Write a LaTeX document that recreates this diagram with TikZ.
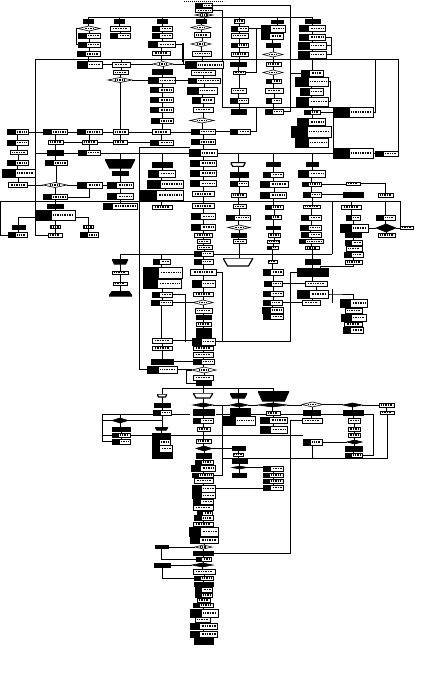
\documentclass[tikz,border=0pt]{standalone}
\usetikzlibrary{shapes.geometric,calc}
\pgfdeclarelayer{background}
\pgfsetlayers{background,main}
\tikzset{
  base/.style={inner sep=0pt,outer sep=0pt,line width=0.6pt},
  txt/.style={draw=black,line width=1.5pt,dash pattern=on 1pt off 0.7pt},
  bx/.style={base,draw,fill=white,rectangle,path picture={\draw[txt] ($(path picture bounding box.west)!0.14!(path picture bounding box.east)$) -- ($(path picture bounding box.west)!0.86!(path picture bounding box.east)$);}},
  bb/.style={base,draw,fill=white,rectangle,path picture={\fill[black] let \p1=(path picture bounding box.south west), \p2=(path picture bounding box.north east) in (\p1) rectangle ({min(\x1+1.7*(\y2-\y1),\x1+0.42*(\x2-\x1))},\y2);\draw[txt] let \p1=(path picture bounding box.south west), \p2=(path picture bounding box.north east) in ({min(\x1+1.7*(\y2-\y1),\x1+0.42*(\x2-\x1))+1.5pt},{0.5*(\y1+\y2)}) -- ({\x2-1.5pt},{0.5*(\y1+\y2)});}},
  bk/.style={base,draw,fill=black,rectangle},
  dm/.style={base,draw,fill=white,diamond,path picture={\draw[txt,line width=1.2pt] ($(path picture bounding box.west)!0.3!(path picture bounding box.east)$) -- ($(path picture bounding box.west)!0.7!(path picture bounding box.east)$);}},
  bd/.style={base,draw,fill=black,diamond},
  tw/.style={base,fill=white,rectangle,path picture={\draw[line width=1.2pt,draw=black,fill=white] (path picture bounding box.north west) -- (path picture bounding box.north east) -- ($(path picture bounding box.south east)!0.15!(path picture bounding box.south west)$) -- ($(path picture bounding box.south west)!0.15!(path picture bounding box.south east)$) -- cycle;}},
  tb/.style={base,fill=white,rectangle,path picture={\draw[line width=1.2pt,draw=black,fill=black] (path picture bounding box.north west) -- (path picture bounding box.north east) -- ($(path picture bounding box.south east)!0.15!(path picture bounding box.south west)$) -- ($(path picture bounding box.south west)!0.15!(path picture bounding box.south east)$) -- cycle;}},
  tn/.style={base,fill=white,rectangle,path picture={\draw[line width=1.2pt,draw=black,fill=black] (path picture bounding box.south west) -- (path picture bounding box.south east) -- ($(path picture bounding box.north east)!0.15!(path picture bounding box.north west)$) -- ($(path picture bounding box.north west)!0.15!(path picture bounding box.north east)$) -- cycle;}},
  tx/.style={base,fill=white,rectangle,path picture={\draw[draw=black,line width=1pt,dash pattern=on 0.8pt off 1.2pt] (path picture bounding box.west) -- (path picture bounding box.east);}},
  ln/.style={line width=0.75pt},
}
\newcommand\nd[6]{\node[#6,minimum width=#4pt,minimum height=#5pt] (#1) at (#2,#3) {};}
\newcommand\vch[1]{\foreach \cur [count=\ci, remember=\cur as \prv] in {#1}{\ifnum\ci>1\relax\draw[ln] (\prv.south) -- (\prv.south |- \cur.north);\fi}}
\newcommand\hch[1]{\foreach \cur [count=\ci, remember=\cur as \prv] in {#1}{\ifnum\ci>1\relax\draw[ln] (\prv.east) -- (\prv.east -| \cur.west);\fi}}
\newcommand\vr[3]{\pgfmathtruncatemacro\vrend{#3-1}\foreach \i [evaluate=\i as \j using int(\i+1)] in {#2,...,\vrend}{\draw[ln] (#1\i.south) -- (#1\i.south |- #1\j.north);}}
\begin{document}
\begin{tikzpicture}[x=1pt,y=-1pt]
\useasboundingbox (0,0) rectangle (426,674);
\coordinate (Y17) at (0,17.5);
\coordinate (Y59) at (0,59);
\coordinate (Y153) at (0,153);
\coordinate (Y201) at (0,201);
\coordinate (Y217) at (0,217);
\coordinate (Y254) at (0,254);
\coordinate (Y388) at (0,388);
\coordinate (Y458) at (0,458);
% top
\nd{tp0}{204}{1.5}{40}{3}{tx}
\nd{tp1}{204}{5.5}{17}{4.5}{bb}
\nd{tp2}{204}{10.5}{17}{4.5}{bx}
\nd{tp3}{204}{15}{18}{4}{dm}
% column a
\nd{a1}{88}{21}{10}{4}{bk}
\nd{a2}{89}{28.5}{22}{5}{dm}
\nd{a3}{89}{35.5}{22}{5}{bb}
\nd{a4}{89}{44.5}{22}{5}{bb}
\nd{a5}{88.5}{54}{23}{5}{bb}
\nd{a6}{89.5}{64.5}{25}{7}{bb}
% column b
\nd{b1}{119}{21}{10}{4}{bk}
\nd{b2}{120}{28.5}{20}{5}{bx}
\nd{b3}{120}{35.5}{20}{5}{bb}
\nd{b4}{121}{64.5}{18}{5}{bx}
\nd{b5}{120.5}{72.5}{15}{4}{bx}
\nd{b6}{120}{80}{24}{5}{dm}
% column c
\nd{c1}{162}{21}{10}{4}{bk}
\nd{c2}{162}{28.5}{20}{5}{bb}
\nd{c3}{162}{35.5}{20}{5}{bb}
\nd{c4}{161.5}{44.5}{27}{6}{bb}
\nd{c5}{161}{53}{18}{4}{bx}
\nd{c6}{163}{64}{20}{5}{dm}
\nd{c7}{162}{72}{20}{5}{bk}
\nd{c8}{162}{80.5}{27}{6}{bb}
\nd{c9}{162}{90}{23}{5}{bb}
\nd{c10}{162}{100}{23}{5}{bb}
\nd{c11}{162}{110}{23}{5}{bb}
\nd{c12}{162}{121}{22}{5}{bb}
\nd{c13}{161}{132}{18}{5}{bx}
\nd{c14}{162}{142.5}{23}{5}{bb}
% spine
\nd{s1}{201}{21}{10}{4}{bk}
\nd{s2}{201}{27.5}{20}{5}{dm}
\nd{s3}{202}{35}{16}{5}{bx}
\nd{s4}{201}{44}{20}{5}{dm}
\nd{s5}{202}{53.5}{19}{5}{bx}
\nd{s6}{204}{65}{38}{7}{bb}
\nd{s7}{203}{72.5}{24}{5}{bx}
\nd{s8}{204}{80.5}{32}{5}{bb}
\nd{s9}{202}{90.5}{30}{7}{bb}
\nd{s10}{203}{100}{22}{6}{bb}
\nd{s11}{203}{109.5}{20}{5}{bx}
\nd{s12}{202}{120.5}{24}{5}{dm}
\nd{s13}{203}{131.5}{24}{5}{bb}
\nd{s14}{203}{142}{24}{5}{bb}
\nd{s15}{203}{153}{28}{7}{bb}
\nd{s16}{203}{163}{26}{6}{bb}
\nd{s17}{203}{173}{26}{6}{bb}
\nd{s18}{203}{183.5}{26}{6}{bb}
\nd{s19}{203}{194}{22}{5}{bx}
\nd{s20}{203}{206}{22}{5}{bx}
\nd{s21}{203}{216.5}{24}{6}{bb}
\nd{s22}{203}{227}{24}{6}{bb}
\nd{s23}{203.5}{235}{18}{4}{bx}
\nd{s24}{203.5}{241.5}{13}{4}{bx}
\nd{s25}{204.5}{247.5}{15}{4}{bx}
\nd{s26}{203.5}{253.5}{19}{5}{bb}
\nd{s27}{203.5}{261.5}{19}{5}{bb}
\nd{s28}{203}{272}{26}{6}{bx}
\nd{s29}{203.5}{283.5}{23}{7}{bb}
\nd{s30}{203}{294}{20}{4}{bx}
\nd{s31}{203}{302.5}{20}{5}{dm}
\nd{s32}{203.5}{310.5}{17}{5}{bx}
\nd{s33}{203.5}{317}{15}{4}{bk}
\nd{s34}{203.5}{324}{15}{4}{bx}
\nd{s35}{203.5}{330}{15}{4}{bk}
\nd{s36}{203.5}{335}{15}{4}{bk}
\nd{s37}{203.5}{341.5}{23}{7}{bb}
\nd{s38}{203}{348}{20}{4}{bx}
\nd{s39}{203}{354.5}{20}{5}{bx}
\nd{s40}{203.5}{361.5}{21}{5}{bb}
\nd{s41}{204}{370}{24}{6}{dm}
\nd{s42}{203}{377.5}{20}{5}{bx}
\nd{s43}{203.5}{383}{15}{4}{bk}
\nd{s45}{203}{395.5}{20}{5}{tw}
\nd{s46}{203}{405}{20}{4}{bd}
\nd{s47}{203.5}{412}{21}{6}{bk}
\nd{s48}{203}{420.5}{20}{5}{bb}
\nd{s49}{203.5}{429}{13}{4}{bx}
\nd{s50}{203.5}{441}{15}{4}{bx}
\nd{s51}{204}{448.5}{16}{5}{bd}
\nd{s52}{203.5}{455.5}{15}{5}{bk}
\nd{s53}{204}{462}{18}{4}{bb}
\nd{s54}{203}{468}{24}{6}{bb}
\nd{s55}{202.5}{475}{21}{4}{bb}
\nd{s56}{203.5}{480.5}{19}{5}{bx}
\nd{s57}{203.5}{488.5}{23}{7}{bb}
\nd{s58}{203.5}{495.5}{23}{6}{bb}
\nd{s59}{203}{501.5}{20}{5}{bb}
\nd{s60}{203}{507.5}{20}{5}{bx}
\nd{s61}{204.5}{513}{15}{4}{bb}
\nd{s62}{203.5}{518}{19}{5}{bb}
\nd{s63}{203}{524}{20}{4}{bx}
\nd{s64}{203.5}{531.5}{29}{9}{bb}
\nd{s65}{204}{540}{28}{6}{bb}
\nd{s66}{203.5}{547}{17}{4}{dm}
\nd{s67}{203}{553}{20}{4}{bk}
\nd{s68}{203.5}{559}{15}{4}{bb}
\nd{s69}{202.5}{565}{21}{4}{bd}
\nd{s70}{204}{571.5}{22}{5}{bx}
\nd{s71}{203.5}{578}{19}{4}{bb}
\nd{s72}{203.5}{584}{19}{4}{bk}
\nd{s73}{203.5}{589.5}{17}{5}{bb}
\nd{s74}{203.5}{595}{17}{4}{bb}
\nd{s75}{203.5}{600}{13}{4}{bx}
\nd{s76}{203}{605}{20}{4}{bb}
\nd{s77}{204}{613}{28}{8}{bb}
\nd{s78}{202.5}{619.5}{15}{5}{bx}
\nd{s79}{203.5}{626}{27}{6}{bb}
\nd{s80}{203.5}{634}{27}{6}{bb}
\nd{s81}{203.5}{641}{19}{6}{bk}
% column e
\nd{e1}{239}{21}{10}{4}{bx}
\nd{e2}{239.5}{28.5}{17}{5}{bb}
\nd{e3}{239.5}{35.5}{17}{5}{bx}
\nd{e4}{239.5}{45}{17}{4}{bb}
\nd{e5}{239.5}{54}{17}{4}{bx}
\nd{e6}{238}{64}{16}{4}{bk}
\nd{e7}{239}{72.5}{12}{3}{bx}
\nd{e8}{238.5}{90.5}{15}{5}{bx}
\nd{e9}{239}{100.5}{18}{5}{bb}
\nd{e10}{238.5}{111.5}{15}{5}{bk}
% column f
\nd{f1}{277}{21.5}{12}{3}{bk}
\nd{f2}{273}{28.5}{24}{7}{bb}
\nd{f3}{272}{36}{22}{6}{bb}
\nd{f4}{273}{45}{14}{4}{bk}
\nd{f5}{273}{54.5}{20}{5}{dm}
\nd{f6}{273.5}{64}{15}{4}{bx}
\nd{f7}{273}{72.5}{20}{5}{dm}
\nd{f8}{273.5}{81}{15}{4}{bb}
\nd{f9}{274}{90.5}{18}{5}{bx}
\nd{f10}{273.5}{100.5}{15}{5}{bb}
\nd{f11}{274}{111.5}{18}{5}{bb}
% column g
\nd{g1}{312.5}{21.5}{15}{4}{bk}
\nd{g2}{312}{28.5}{26}{6}{bb}
\nd{g3}{312}{37}{26}{6}{bb}
\nd{g4}{312}{45.5}{28}{7}{bb}
\nd{g5}{312}{54.5}{28}{7}{bb}
\nd{g6}{312}{73}{22}{6}{bb}
\nd{g7}{311.5}{81.5}{33}{9}{bb}
\nd{g8}{311.5}{91.5}{23}{7}{bb}
\nd{g9}{312}{101.5}{32}{9}{bb}
\nd{g10}{312}{112}{16}{4}{bb}
\nd{g11}{311.5}{122}{28}{7}{bb}
\nd{g12}{311}{131.5}{40}{11}{bb}
\nd{g13}{311.5}{142.5}{33}{9}{bb}
\nd{h1}{353}{112}{40}{10}{bb}
\nd{h2}{353}{153}{40}{10}{bb}
\nd{h3}{386.5}{153.5}{23}{5}{bb}
\nd{i1}{240}{131.5}{20}{5}{bb}
% left rows
\nd{p1}{17.5}{132}{21}{5}{bb}
\nd{p2}{55}{132}{24}{5}{bb}
\nd{p3}{89.5}{132}{25}{5}{bb}
\nd{p4}{120.5}{132}{15}{5}{bx}
\nd{q1}{17.5}{142.5}{21}{5}{bb}
\nd{q2}{55.5}{142}{15}{4}{bx}
\nd{q3}{89.5}{142}{15}{4}{bx}
\nd{q4}{120}{142}{14}{4}{bx}
\nd{lr1}{18.5}{152.5}{17}{4}{bx}
\nd{lr2}{55}{152.5}{16}{5}{bk}
\nd{lr3}{89}{152.5}{22}{5}{bb}
\nd{lu1}{17.5}{163}{21}{5}{bb}
\nd{lu2}{56}{163}{22}{5}{bb}
\nd{T1}{120}{163.5}{30}{9}{tb}
\nd{lu3}{18.5}{173}{33}{8}{bb}
\nd{lu4}{120}{173}{16}{4}{bk}
\nd{lv1}{17.5}{185}{19}{5}{bx}
\nd{lv2}{55}{185}{24}{5}{dm}
\nd{lv3}{89.5}{185}{25}{6}{bb}
\nd{lv4}{120}{185}{26}{6}{bb}
\nd{lw1}{55}{197}{24}{5}{bb}
\nd{lw2}{120}{196.5}{26}{6}{bb}
\nd{lw3}{120}{206}{34}{6}{bb}
\nd{lw4}{55}{206}{16}{4}{bk}
\nd{lw5}{55}{215}{40}{10}{bb}
\nd{lx1}{18.5}{227}{13}{4}{bk}
\nd{lx2}{55}{227}{10}{3}{bx}
\nd{lx3}{88}{227}{10}{3}{bx}
\nd{ly1}{17.5}{235}{19}{5}{bb}
\nd{ly2}{55}{235}{14}{4}{bx}
\nd{ly3}{89}{235}{18}{5}{bb}
% group k
\nd{k1}{162}{164.5}{20}{5}{bk}
\nd{k2}{161.5}{173.5}{27}{7}{bb}
\nd{k3}{165}{184}{36}{8}{bb}
\nd{k4}{161.5}{195}{43}{10}{bb}
\nd{k5}{162}{207}{20}{4}{bx}
% m n o columns
\nd{m1}{238}{164.5}{15}{4}{tw}
\nd{m2}{239}{174.5}{18}{5}{bk}
\nd{m3}{239}{183.5}{18}{5}{bb}
\nd{m4}{238.5}{195}{15}{4}{bx}
\nd{m5}{239.5}{206.5}{13}{4}{bx}
\nd{m6}{238}{217.5}{24}{5}{bb}
\nd{m7}{239}{227.5}{22}{5}{dm}
\nd{m8}{238.5}{235}{15}{4}{bk}
\nd{m9}{239.5}{241.5}{13}{4}{bx}
\nd{n1}{273}{164.5}{14}{4}{bk}
\nd{n2}{273}{174.5}{20}{5}{bb}
\nd{n3}{274}{184}{28}{6}{bb}
\nd{n4}{273}{195}{26}{6}{bb}
\nd{n5}{274}{207}{18}{4}{bb}
\nd{n6}{273}{217}{16}{4}{bb}
\nd{n7}{273}{227.5}{14}{3}{bk}
\nd{n8}{274}{235}{12}{4}{bx}
\nd{n9}{273.5}{241.5}{12}{3}{bx}
\nd{n10}{272.5}{247.5}{11}{3}{bb}
\nd{o1}{312}{164.5}{12}{4}{bk}
\nd{o2}{311.5}{173.5}{27}{7}{bb}
\nd{o3}{311.5}{184}{19}{4}{bb}
\nd{o4}{312}{194.5}{18}{5}{bb}
\nd{o5}{385.5}{195}{15}{4}{bx}
\nd{o6}{353}{183.5}{14}{3}{bx}
\nd{o7}{353}{194.5}{20}{5}{bk}
\nd{o8}{311.5}{206.5}{17}{3}{bx}
\nd{o9}{311}{217.5}{20}{5}{bb}
\nd{o10}{310.5}{227.5}{21}{5}{bb}
\nd{o11}{311}{234.5}{20}{5}{bb}
\nd{o12}{311}{241.5}{24}{4}{bb}
\nd{o13}{312}{248}{14}{3}{bx}
\nd{hh1}{351}{207}{20}{4}{bx}
\nd{hh2}{353}{217.5}{14}{5}{bb}
\nd{hh3}{354}{228}{28}{8}{bb}
\nd{hh4}{353}{235}{16}{4}{bk}
\nd{hh5}{353.5}{242.5}{17}{5}{bb}
\nd{hh6}{354}{248.5}{16}{5}{bx}
\nd{hh7}{353.5}{254.5}{19}{5}{bb}
\nd{hh8}{353.5}{262}{17}{4}{bx}
\nd{ii1}{385.5}{217.5}{19}{5}{bb}
\nd{ii2}{386}{228}{20}{8}{bd}
\nd{ii3}{386.5}{235}{17}{4}{bx}
\nd{ii4}{406.5}{227.5}{13}{3}{bx}
% lower middle
\nd{z1}{120}{261.5}{16}{5}{tb}
\nd{z2}{120}{272.5}{16}{3}{bx}
\nd{z3}{120}{283.5}{14}{3}{bx}
\nd{z4}{120.5}{293.5}{23}{5}{tn}
\nd{z5}{162}{369.5}{30}{7}{bb}
\nd{k6}{161.5}{261.5}{17}{5}{bb}
\nd{k7}{162.5}{272.5}{39}{11}{bb}
\nd{k8}{162}{283.5}{38}{9}{bb}
\nd{k9}{162}{294.5}{20}{5}{bb}
\nd{k10}{161.5}{302.5}{21}{5}{bb}
\nd{k11}{162}{340.5}{20}{5}{bx}
\nd{k12}{162}{348}{20}{4}{bx}
\nd{k13}{162}{361.5}{22}{5}{bk}
\nd{TT}{238}{262}{30}{8}{tw}
\nd{n11}{272.5}{261.5}{9}{3}{bx}
\nd{n12}{273}{272}{20}{6}{bb}
\nd{n13}{273}{283.5}{18}{5}{bb}
\nd{n14}{273}{293.5}{20}{5}{bb}
\nd{n15}{272.5}{302.5}{19}{5}{bb}
\nd{n16}{272.5}{310}{21}{6}{bb}
\nd{n17}{273}{316.5}{20}{5}{bb}
\nd{g20}{312.5}{261.5}{15}{5}{bk}
\nd{g21}{312.5}{272}{31}{8}{bk}
\nd{g22}{316}{283.5}{22}{5}{bx}
\nd{g23}{312.5}{294}{31}{8}{bb}
\nd{g24}{311}{302.5}{18}{5}{bx}
\nd{j1}{353.5}{303}{27}{8}{bb}
\nd{j2}{353.5}{310.5}{17}{5}{bx}
\nd{j3}{353.5}{317.5}{25}{7}{bb}
\nd{j4}{353}{324}{18}{4}{bx}
\nd{j5}{353}{330}{20}{6}{bb}
% bottom zone
\nd{l1}{162}{395.5}{10}{3}{tw}
\nd{l2}{162}{405}{16}{4}{bk}
\nd{l3}{162}{412.5}{18}{5}{bb}
\nd{l4}{161.5}{428.5}{13}{3}{tb}
\nd{l5}{161}{435.5}{18}{5}{bk}
\nd{l6}{161}{442}{18}{6}{bb}
\nd{l7}{162}{448.5}{20}{7}{bb}
\nd{l8}{162}{455}{20}{6}{bk}
\nd{mm1}{238.5}{395.5}{17}{5}{tb}
\nd{mm2}{239}{405}{18}{4}{bd}
\nd{mm3}{240}{411.5}{20}{7}{bk}
\nd{mm4}{238.5}{420.5}{33}{9}{bb}
\nd{nn1}{273.5}{396}{31}{10}{tb}
\nd{nn2}{272.5}{405}{29}{4}{bd}
\nd{nn3}{273}{413}{14}{4}{bx}
\nd{nn4}{273.5}{420}{27}{6}{bb}
\nd{nn5}{273.5}{429.5}{27}{7}{bb}
\nd{rr1}{312.5}{404.5}{21}{5}{dm}
\nd{rr2}{311.5}{412.5}{17}{5}{bk}
\nd{rr3}{312}{420.5}{20}{5}{bx}
\nd{rr4}{312.5}{442}{19}{6}{bb}
\nd{tt1}{352.5}{405}{19}{4}{bd}
\nd{tt2}{353}{412.5}{20}{5}{bk}
\nd{tt3}{354}{420.5}{12}{5}{bx}
\nd{tt4}{354}{429}{12}{4}{bx}
\nd{tt5}{354}{435}{12}{4}{bx}
\nd{tt6}{354.5}{442}{15}{4}{bd}
\nd{tt7}{353.5}{448.5}{17}{5}{bk}
\nd{tt8}{353.5}{455}{17}{4}{bb}
\nd{uu1}{386.5}{405}{15}{4}{bx}
\nd{uu2}{387}{412.5}{14}{3}{bx}
\nd{ll1}{120}{420.5}{16}{5}{bd}
\nd{ll2}{121}{429}{18}{4}{bk}
\nd{ll3}{121}{435}{18}{4}{bb}
\nd{ll4}{121}{441.5}{18}{5}{bb}
\nd{ww1}{238.5}{448}{13}{4}{bk}
\nd{ww2}{238}{454.5}{10}{3}{bx}
\nd{ww3}{239.5}{460.5}{15}{5}{bk}
\nd{ww4}{239.5}{467.5}{15}{3}{bd}
\nd{ww5}{239}{475}{14}{4}{bk}
\nd{xx1}{273}{468.5}{20}{5}{bb}
\nd{xx2}{273}{475}{20}{4}{bb}
\nd{xx3}{273}{481}{20}{4}{bb}
\nd{xx4}{273}{487.5}{20}{5}{bb}
\nd{L1}{161.5}{547}{13}{3}{bk}
\nd{L2}{162}{565}{16}{4}{bk}
\begin{pgfonlayer}{background}
\fill[white] (0,0) rectangle (426,674);
% top bus
\draw[ln] (88,17.5) -- (312,17.5);
\foreach \q in {a1,b1,c1,e1,f1,g1} {\draw[ln] (\q.north) -- (\q.north |- Y17);}
\vch{tp0,tp1,tp2,tp3,s1}
\vr{s}{1}{43}
\vch{s43,s45}
\vr{s}{45}{81}
\vr{a}{1}{6}
\vch{b1,b2,b3}
\vch{b4,b5,b6,p4,q4}
\vr{c}{1}{14}
\vr{e}{1}{10}
\vr{f}{1}{11}
\vr{g}{1}{5}
\vr{g}{6}{13}
% bus 59
\draw[ln] (35,59) -- (398,59);
\draw[ln] (35,59) |- (ly2.west);
\draw[ln] (b4.north) -- (b4.north |- Y59);
\draw[ln] (g6.north) -- (g6.north |- Y59);
\draw[ln] (375,59) |- (h1.east);
\draw[ln] (398,59) -- (398,151);
\hch{a6,b4,c6,s6}
\hch{b6,c8,s8}
\draw[ln] (a2.west) -- ++(-2,0) |- (a4.west);
\draw[ln] (g3.east) -| (331,54.5) -- (g5.east);
\draw[ln] (g4.east) -- (331,45.5);
\draw[ln] (c4.east) -| (183,64);
\draw[line width=1.6pt] (183,43) -- (183,62);
\hch{e2,f2}
\draw[ln] (256,28.5) -- (256,72.5) -- (e7.east);
\draw[ln] (tp1.east) -| (290,111.5) -- (f11.east);
\draw[ln] (290,73) -- (g6.west);
\draw[ln] (tp2.east) -| (222,107) -- (333,107);
\draw[ln] (g10.east) -- (h1.west);
\draw[ln] (h1.south west) -- (h2.north west);
\draw[ln] (h2.east) -- (h3.west);
\draw[ln] (g7.east) -| (330,101.5) -- (g9.east);
\draw[ln] (s13.east) -- (i1.west);
\draw[ln] (i1.east) -| (256,107);
% left rows
\hch{p1,p2,p3,p4,c13,s13}
\hch{q2,q3,q4,c14}
\vch{p1,q1,lr1,lu1,lu3,lv1}
\vch{p2,q2,lr2,lu2,lv2,lw1,lw4,lw5,lx2,ly2}
\vch{p3,q3,lr3}
\vch{T1,lu4,lv4,lw2,lw3}
\vch{lx1,ly1}
\vch{lx3,ly3}
\draw[ln] (139,147) -- (190,147);
\draw[ln] (139,147) |- (z5.west);
% bus 153
\draw[ln] (36,153) -- (h2.west);
\foreach \q in {T1,k1,m1,n1,o1} {\draw[ln] (\q.north) -- (\q.north |- Y153);}
\vr{k}{1}{5}
\hch{lv1,lv2,lv3,lv4}
\draw[ln] (lw1.east) -| (lv3.south);
% bus 201
\draw[ln] (0,201) -- (400,201);
\draw[ln] (0,201) |- (ly1.west);
\draw[ln] (ii1.north) -- (ii1.north |- Y201);
\draw[ln] (hh1.north) -- (hh1.north |- Y201);
\draw[ln] (400,201) -- (ii4.west);
\draw[ln] (332,201) -- (332,254);
\draw[ln] (18,217) -- (88,217);
\foreach \q in {lx1,lx3} {\draw[ln] (\q.north) -- (\q.north |- Y217);}
\vr{m}{1}{9}
\vr{n}{1}{10}
\vr{o}{1}{4}
\vch{o4,o8}
\vr{o}{8}{13}
\vr{hh}{1}{8}
\vch{ii1,ii2,ii3}
\hch{o3,o6}
\draw[ln] (o6.east) -| (o5.north);
\hch{o4,o7}
\hch{hh3,ii2,ii4}
% bus 254
\draw[ln] (121,254) -- (332,254);
\foreach \q in {z1,k6} {\draw[ln] (\q.north) -- (\q.north |- Y254);}
\vch{m9,TT}
\vch{n10,n11}
\vch{o13,g20}
\vr{z}{1}{4}
\vr{k}{6}{13}
\vr{n}{11}{17}
\vr{g}{20}{24}
\vr{j}{1}{5}
\hch{k10,s31}
\draw[ln] (k9.east) -| (185,341.5);
\hch{k11,s37}
\hch{k13,s40}
\hch{z5,s41}
\draw[ln] (s28.east) -| (222,341.5);
\draw[ln] (s37.east) -- (290,341.5) |- (g21.west);
\hch{n13,g22}
\hch{n15,g24}
\draw[ln] (g23.east) -- (332,294) -| (j1.north);
\draw[ln] (332,289) -- (332,303);
\draw[ln] (hh8.south) |- (320,266) -- (320,268);
\draw[ln] (s41.west) -- (186,370) |- (s43.west);
% bus 388
\draw[ln] (162,388) -- (273,388);
\foreach \q in {l1,mm1,nn1} {\draw[ln] (\q.north) -- (\q.north |- Y388);}
\vr{l}{1}{8}
\vr{mm}{1}{4}
\vr{nn}{1}{5}
\vr{rr}{1}{3}
\vr{tt}{1}{8}
\vr{ll}{1}{4}
\vr{ww}{1}{5}
\vr{xx}{1}{4}
\vch{uu1,uu2}
\hch{s46,mm2,nn2,rr1,tt1,uu1}
\draw[ln] (102,414) -- (190,414);
\draw[ln] (216,414) -- (373,414);
\draw[ln] (120,414) -- (ll1.north);
\draw[ln] (102,414) |- (ll4.west);
\draw[ln] (102,435) -- (ll3.west);
\draw[ln] (102,420.5) -- (ll1.west);
\draw[ln] (ll1.east) -- (162,420.5);
\draw[ln] (373,414) |- (tt8.east);
\draw[ln] (uu2.south) |- (222,458);
\draw[ln] (222,405) |- (s55.east);
\draw[ln] (rr4.south) -- (rr4.south |- Y458);
\hch{rr4,tt6}
\draw[ln] (rr3.west) -| (290,553) -- (s67.east);
\draw[ln] (ll3.east) -- (303,435);
\hch{s51,ww1}
\hch{ww4,xx1}
\hch{s57,xx4}
\hch{L1,s66}
\draw[ln] (L1.south) |- (s68.west);
\hch{L2,s69}
\draw[ln] (L2.south) |- (s71.west);
\end{pgfonlayer}
\end{tikzpicture}
\end{document}
